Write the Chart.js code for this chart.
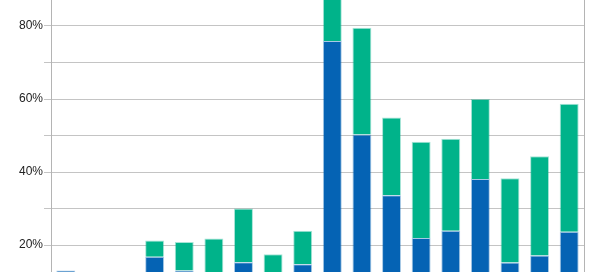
<!DOCTYPE html>
<html>
<head>
<meta charset="utf-8">
<script src="https://cdn.jsdelivr.net/npm/chart.js@4/dist/chart.umd.min.js"></script>
<style>
  html, body { margin: 0; padding: 0; background: #ffffff; overflow: hidden; width: 600px; height: 272px; }
  #wrap { position: absolute; left: 0; top: -47px; width: 600px; height: 365px; }
</style>
</head>
<body>
<div id="wrap"><canvas id="c" width="600" height="365"></canvas></div>
<script>
const categories = ['1','2','3','4','5','6','7','8','9','10','11','12','13','14','15','16','17','18'];
const blueValues  = [13.0, 4, 2, 16.8, 13.0, 6, 15.3, 5, 14.7, 75.9, 50.3, 33.6, 21.9, 23.9, 38.1, 15.2, 17.1, 23.6];
const greenValues = [0, 4, 5, 4.4, 7.8, 15.8, 14.7, 12.5, 9.2, 17.1, 29.2, 21.3, 26.4, 25.2, 21.9, 23.1, 27.2, 35.1];
const labeledTicks = [20, 40, 60, 80];

Chart.defaults.font.family = '"Liberation Sans", Arial, sans-serif';
Chart.defaults.font.size = 12;

new Chart(document.getElementById('c'), {
  type: 'bar',
  data: {
    labels: categories,
    datasets: [
      {
        data: blueValues,
        backgroundColor: '#0563b4',
        borderColor: 'rgba(5,99,180,0.35)',
        borderWidth: 1,
        categoryPercentage: 0.8,
        barPercentage: 0.8
      },
      {
        data: greenValues,
        backgroundColor: '#00b38a',
        borderColor: 'rgba(0,179,138,0.35)',
        borderWidth: 1,
        categoryPercentage: 0.8,
        barPercentage: 0.8
      }
    ]
  },
  options: {
    responsive: false,
    animation: false,
    layout: { padding: 0 },
    plugins: { legend: { display: false }, tooltip: { enabled: false } },
    scales: {
      x: { stacked: true, display: false },
      y: {
        stacked: true,
        min: 0,
        max: 100,
        position: 'left',
        ticks: {
          stepSize: 10,
          padding: 1,
          color: '#222222',
          callback: v => labeledTicks.includes(v) ? v + '%' : ''
        },
        grid: { color: '#c4c4c4', tickColor: '#c4c4c4', tickLength: 7, drawTicks: true },
        border: { display: true, color: '#b4b4b4' },
        afterFit: s => { s.width = 51; s.paddingTop = 0; s.paddingBottom = 0; }
      },
      y2: {
        position: 'right',
        ticks: { display: false },
        grid: { display: false, drawTicks: false },
        border: { display: true, color: '#b4b4b4' },
        afterFit: s => { s.width = 16; s.paddingTop = 0; s.paddingBottom = 0; }
      }
    }
  }
});
</script>
</body>
</html>
